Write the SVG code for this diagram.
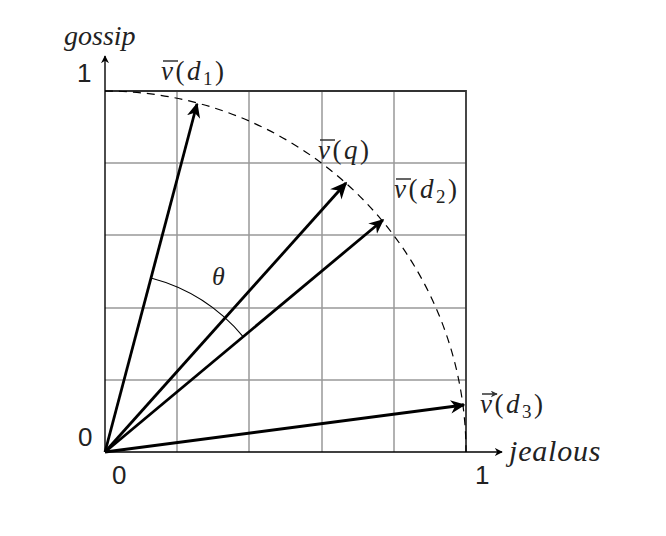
<svg xmlns="http://www.w3.org/2000/svg" width="666" height="536" viewBox="0 0 666 536">
<defs>
<marker id="ah" viewBox="0 0 10 10" refX="9" refY="5" markerWidth="8" markerHeight="8" markerUnits="userSpaceOnUse" orient="auto"><path d="M0,0 L10,5 L0,10 L3,5 Z" fill="#000"/></marker>
<marker id="acc" viewBox="0 0 10 10" refX="9" refY="5" markerWidth="7" markerHeight="7" markerUnits="userSpaceOnUse" orient="auto"><path d="M0,0 L10,5 L0,10 L3,5 Z" fill="#333"/></marker>
<marker id="vh" viewBox="0 0 10 10" refX="9" refY="5" markerWidth="15" markerHeight="15" markerUnits="userSpaceOnUse" orient="auto"><path d="M0,0.5 L10,5 L0,9.5 L3,5 Z" fill="#000"/></marker>
<marker id="vhq" viewBox="0 0 10 10" refX="9" refY="5" markerWidth="17" markerHeight="17" markerUnits="userSpaceOnUse" orient="auto"><path d="M0,0.5 L10,5 L0,9.5 L3,5 Z" fill="#000"/></marker>
<style>
.grid{stroke:#999;stroke-width:1.5;fill:none}
.border{stroke:#333;stroke-width:1.8;fill:none}
.axis{stroke:#000;stroke-width:1.4;fill:none}
.vec{stroke:#000;stroke-width:2.8;fill:none}
.accent{stroke:#333;stroke-width:1.3;fill:none}
.num{font-family:"Liberation Sans",Arial,sans-serif;font-size:26px;fill:#222}
.lab{font-family:"Liberation Serif","DejaVu Serif",serif;font-size:27px;fill:#222;letter-spacing:2.5px}
.ax{font-family:"Liberation Serif","DejaVu Serif",serif;font-style:italic;fill:#222}
.it{font-style:italic}
</style>
</defs>
<rect width="666" height="536" fill="#fff"/>
<g id="grid">
<path class="grid" d="M177,91V452M249,91V452M322,91V452M394,91V452M105,163H466M105,235H466M105,308H466M105,380H466"/>
<path class="border" d="M105,91H466V452"/>
</g>
<g id="circle">
<path d="M105,91 A361,361 0 0 1 466,452" fill="none" stroke="#000" stroke-width="1.2" stroke-dasharray="8,6"/>
</g>
<g id="axes">
<line class="axis" x1="105" y1="452" x2="105" y2="56" marker-end="url(#ah)"/>
<line class="axis" x1="105" y1="452" x2="502" y2="452" marker-end="url(#ah)"/>
<text class="ax" x="64" y="45" font-size="28">gossip</text>
<text class="ax" x="509" y="461" font-size="30" letter-spacing="0.8">jealous</text>
<text class="num" x="77" y="82">1</text>
<text class="num" x="78" y="446">0</text>
<text class="num" x="112" y="484">0</text>
<text class="num" x="475" y="484">1</text>
</g>
<g id="connectors">
<line class="vec" x1="105" y1="452" x2="197" y2="104" marker-end="url(#vh)"/>
<line class="vec" x1="105" y1="452" x2="346" y2="183" stroke-width="4.2" marker-end="url(#vhq)"/>
<line class="vec" x1="105" y1="452" x2="383" y2="220" marker-end="url(#vh)"/>
<line class="vec" x1="105" y1="452" x2="464" y2="405" marker-end="url(#vh)"/>
<path d="M151,278 A180,180 0 0 1 243.3,336.8" fill="none" stroke="#000" stroke-width="1.1"/>
</g>
<g id="labels">
<path class="accent" d="M163,61H178M320,140H335M396,179H411M482,394H497" marker-end="url(#acc)"/>
<text class="lab" x="161" y="80"><tspan class="it">v</tspan>(<tspan class="it">d</tspan><tspan font-size="19" dy="5">1</tspan><tspan dy="-5">)</tspan></text>
<text class="lab" x="318" y="159"><tspan class="it">v</tspan>(<tspan class="it">q</tspan>)</text>
<text class="lab" x="394" y="198"><tspan class="it">v</tspan>(<tspan class="it">d</tspan><tspan font-size="19" dy="5">2</tspan><tspan dy="-5">)</tspan></text>
<text class="lab" x="480" y="413"><tspan class="it">v</tspan>(<tspan class="it">d</tspan><tspan font-size="19" dy="5">3</tspan><tspan dy="-5">)</tspan></text>
<text class="ax" x="212" y="285" font-size="26">θ</text>
</g>
</svg>
